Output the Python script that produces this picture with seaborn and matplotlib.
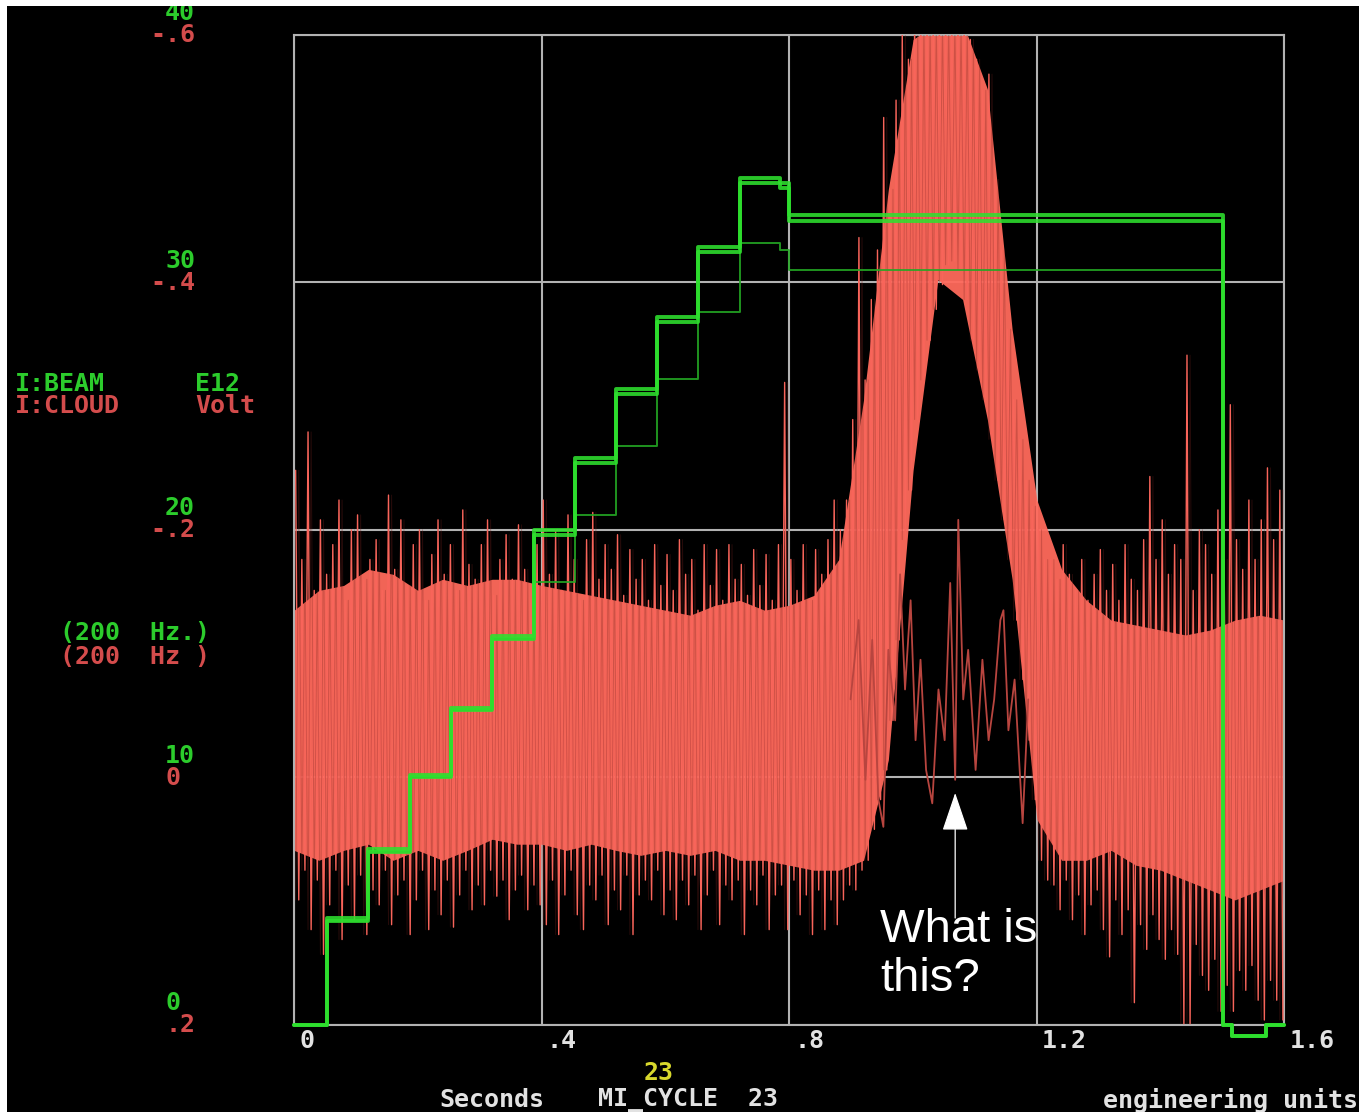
import numpy as np
import matplotlib
matplotlib.use("Agg")
import matplotlib.pyplot as plt
import matplotlib.transforms as mtransforms
from matplotlib.patches import Rectangle
import seaborn as sns

# ---------------------------------------------------------------
# I:BEAM (E12): staircase injection, three overlapping cycles
beam_times = [0.0, 0.053, 0.12, 0.187, 0.253, 0.32, 0.387, 0.453, 0.52,
              0.587, 0.653, 0.72, 0.785, 0.80, 1.50, 1.515, 1.57, 1.60]
beam_cycle_a = [0.0, 4.3, 7.1, 10.1, 12.8, 15.7, 20.0, 22.9, 25.7,
                28.6, 31.4, 34.2, 34.0, 32.7, 0.0, -0.45, 0.0, 0.0]
beam_cycle_b = [0.0, 4.2, 7.0, 10.0, 12.7, 15.6, 19.8, 22.7, 25.5,
                28.4, 31.2, 34.0, 33.8, 32.45, 0.0, -0.45, 0.0, 0.0]
beam_cycle_c = [0.0, 4.2, 7.0, 10.0, 12.7, 15.6, 17.9, 20.6, 23.4,
                26.1, 28.8, 31.6, 31.3, 30.5, 0.0, -0.45, 0.0, 0.0]

# I:CLOUD (Volt): per 10 ms bin, most negative / most positive excursion
cloud_bin_t = np.linspace(0.005, 1.595, 160)
cloud_peak_neg = [
    -0.248, -0.176, -0.279, -0.151, -0.208, -0.164, -0.188, -0.224, -0.143, -0.200,
    -0.212, -0.160, -0.176, -0.192, -0.151, -0.228, -0.168, -0.208, -0.155, -0.188,
    -0.200, -0.143, -0.180, -0.208, -0.164, -0.188, -0.151, -0.216, -0.172, -0.160,
    -0.188, -0.208, -0.147, -0.176, -0.196, -0.160, -0.204, -0.168, -0.143, -0.188,
    -0.224, -0.164, -0.200, -0.151, -0.212, -0.176, -0.143, -0.192, -0.214, -0.160,
    -0.188, -0.168, -0.196, -0.147, -0.184, -0.160, -0.176, -0.143, -0.188, -0.155,
    -0.180, -0.151, -0.192, -0.164, -0.176, -0.135, -0.188, -0.155, -0.184, -0.143,
    -0.188, -0.160, -0.172, -0.147, -0.184, -0.155, -0.180, -0.143, -0.188, -0.319,
    -0.176, -0.151, -0.188, -0.143, -0.184, -0.164, -0.192, -0.224,
    -0.200, -0.224, -0.289, -0.436, -0.321, -0.386, -0.426, -0.533, -0.475, -0.547,
    -0.603, -0.580, -0.610, -0.610, -0.610, -0.610, -0.610, -0.610, -0.610, -0.610,
    -0.610, -0.596, -0.580, -0.555, -0.568, -0.483, -0.426, -0.362, -0.305, -0.273,
    -0.240, -0.219, -0.200, -0.176,
    -0.176, -0.160, -0.188, -0.164, -0.151, -0.176, -0.143, -0.164, -0.184, -0.151,
    -0.172, -0.143, -0.188, -0.160, -0.151, -0.192, -0.243, -0.176, -0.208, -0.164,
    -0.188, -0.176, -0.341, -0.151, -0.200, -0.188, -0.164, -0.216, -0.176, -0.301,
    -0.192, -0.168, -0.224, -0.176, -0.208, -0.250, -0.192, -0.232]
cloud_peak_pos = [
    0.099, 0.075, 0.123, 0.083, 0.143, 0.103, 0.075, 0.131, 0.087, 0.115,
    0.079, 0.127, 0.091, 0.103, 0.075, 0.119, 0.095, 0.083, 0.127, 0.099,
    0.075, 0.123, 0.091, 0.111, 0.083, 0.121, 0.095, 0.075, 0.107, 0.087,
    0.103, 0.075, 0.096, 0.083, 0.115, 0.091, 0.079, 0.107, 0.087, 0.103,
    0.119, 0.083, 0.127, 0.095, 0.075, 0.111, 0.123, 0.087, 0.099, 0.079,
    0.119, 0.091, 0.107, 0.079, 0.127, 0.095, 0.083, 0.099, 0.075, 0.111,
    0.091, 0.115, 0.083, 0.103, 0.079, 0.123, 0.095, 0.075, 0.119, 0.087,
    0.099, 0.083, 0.127, 0.091, 0.103, 0.079, 0.123, 0.095, 0.087, 0.123,
    0.083, 0.111, 0.095, 0.127, 0.091, 0.123, 0.099, 0.119,
    0.099, 0.087, 0.091, 0.075, 0.067, 0.042, 0.018, -0.006, -0.046, -0.111,
    -0.192, -0.232, -0.289, -0.321, -0.353, -0.378, -0.398, -0.414, -0.417, -0.410,
    -0.386, -0.353, -0.329, -0.305, -0.273, -0.240, -0.208, -0.176, -0.127, -0.079,
    -0.030, 0.018, 0.067, 0.083,
    0.087, 0.107, 0.083, 0.115, 0.095, 0.127, 0.103, 0.091, 0.123, 0.145,
    0.099, 0.127, 0.107, 0.182, 0.119, 0.139, 0.111, 0.131, 0.147, 0.123,
    0.143, 0.199, 0.199, 0.135, 0.160, 0.172, 0.147, 0.189, 0.168, 0.189,
    0.156, 0.172, 0.152, 0.180, 0.196, 0.164, 0.180, 0.196]

# I:CLOUD dense core of the trace, every 40 ms
cloud_core_t = np.linspace(0.0, 1.6, 41)
cloud_core_top = [
    -0.135, -0.151, -0.155, -0.168, -0.164, -0.151, -0.160, -0.155, -0.160, -0.160,
    -0.155, -0.151, -0.147, -0.143, -0.139, -0.135, -0.131, -0.139, -0.143, -0.135,
    -0.139, -0.147, -0.176, -0.305, -0.475, -0.596, -0.610, -0.610, -0.556, -0.362,
    -0.224, -0.168, -0.143, -0.127, -0.123, -0.119, -0.115, -0.119, -0.127, -0.131,
    -0.127]
cloud_core_bot = [
    0.059, 0.067, 0.059, 0.054, 0.067, 0.059, 0.067, 0.059, 0.050, 0.054,
    0.054, 0.059, 0.054, 0.059, 0.063, 0.059, 0.063, 0.059, 0.067, 0.067,
    0.071, 0.075, 0.075, 0.067, -0.014, -0.248, -0.402, -0.386, -0.289, -0.160,
    0.034, 0.067, 0.067, 0.059, 0.071, 0.075, 0.083, 0.091, 0.099, 0.091,
    0.083]

# I:CLOUD on the one cycle without the burst
quiet_t = [0.899, 0.912, 0.923, 0.934, 0.944, 0.952, 0.960, 0.971, 0.979, 0.987,
           0.996, 1.004, 1.012, 1.021, 1.031, 1.041, 1.051, 1.060, 1.068, 1.073,
           1.081, 1.089, 1.101, 1.112, 1.122, 1.131, 1.141, 1.146, 1.154, 1.164,
           1.177, 1.186]
quiet_v = [-0.063, -0.127, 0.002, -0.111, 0.018, 0.040, -0.103, -0.046, -0.164, -0.071,
           -0.143, -0.030, -0.095, -0.006, 0.021, -0.071, -0.030, -0.157, 0.002, -0.208,
           -0.063, -0.103, -0.006, -0.095, -0.030, -0.063, -0.127, -0.135, -0.038, -0.079,
           0.037, -0.063]

# axis labelling
time_ticks = [0.0, 0.4, 0.8, 1.2, 1.6]
time_tick_labels = ["0", ".4", ".8", "1.2", "1.6"]
beam_ticks = [0, 10, 20, 30, 40]
beam_tick_labels = ["0", "10", "20", "30", "40"]
cloud_ticks = [0.2, 0.0, -0.2, -0.4, -0.6]
cloud_tick_labels = [".2", "0", "-.2", "-.4", "-.6"]

# ---------------------------------------------------------------
sns.set_style("dark", {"axes.facecolor": "black", "figure.facecolor": "black"})
plt.rcParams["font.family"] = ["DejaVu Sans Mono"]

W, H = 1359, 1112
fig = plt.figure(figsize=((W + 0.5) / 100, (H + 0.5) / 100), dpi=100, facecolor="black")


def fx(px):
    return px / W


def fy(py):
    return 1 - py / H


GRID = "#b2b2b2"
GREEN = "#2ee02e"
GREEN_DIM = "#24a824"
SALMON = "#ff6a5c"
DARK_RED = "#7e2420"
LBL_GREEN = "#2ccc2c"
LBL_RED = "#d44c4c"
LBL_WHITE = "#e2e2e2"

ax_cloud = fig.add_axes([fx(294), fy(1025), fx(1284) - fx(294), fy(35) - fy(1025)])
ax_cloud.set_facecolor("black")
ax_cloud.set_xlim(0, 1.6)
ax_cloud.set_ylim(0.2, -0.6)
ax_cloud.set_xticks(time_ticks)
ax_cloud.set_yticks(cloud_ticks)
ax_cloud.grid(True, color=GRID, linewidth=1.5)
ax_cloud.tick_params(length=0, labelleft=False, labelbottom=False)
for sp in ax_cloud.spines.values():
    sp.set_color(GRID)
    sp.set_linewidth(1.5)

ax_beam = ax_cloud.twinx()
ax_beam.set_ylim(0, 40)
ax_beam.grid(False)
ax_beam.tick_params(length=0, labelright=False)
for sp in ax_beam.spines.values():
    sp.set_visible(False)

# --- I:CLOUD traces -------------------------------------------------
zig_t = np.column_stack([cloud_bin_t - 0.0025, cloud_bin_t + 0.0025]).ravel()
zig_v = np.column_stack([cloud_peak_neg, cloud_peak_pos]).ravel()
zag_v = np.column_stack([cloud_peak_pos, cloud_peak_neg]).ravel()

ax_cloud.fill_between(cloud_core_t, cloud_core_top, cloud_core_bot,
                      color=SALMON, alpha=0.95, linewidth=0, zorder=2)
sns.lineplot(x=zig_t, y=zig_v, ax=ax_cloud, estimator=None, sort=False,
             color="#f8645a", linewidth=1.0, zorder=3)
sns.lineplot(x=zig_t, y=zag_v, ax=ax_cloud, estimator=None, sort=False,
             color=DARK_RED, linewidth=0.7, alpha=0.3, zorder=4)
sns.lineplot(x=quiet_t, y=quiet_v, ax=ax_cloud, estimator=None, sort=False,
             color="#b8453f", linewidth=1.3, zorder=4)

# --- I:BEAM traces --------------------------------------------------
for vals, col, lw in ((beam_cycle_c, GREEN_DIM, 1.4),
                      (beam_cycle_b, GREEN, 2.8),
                      (beam_cycle_a, GREEN, 2.8)):
    sns.lineplot(x=beam_times, y=vals, ax=ax_beam, estimator=None,
                 color=col, linewidth=lw, drawstyle="steps-post",
                 alpha=0.88, zorder=5, clip_on=False)
ax_beam.set_xlim(0, 1.6)
ax_beam.set_ylim(0, 40)
ax_beam.set_xlabel("")
ax_beam.set_ylabel("")
ax_cloud.set_xlabel("")
ax_cloud.set_ylabel("")

# --- annotation -----------------------------------------------------
ax_beam.annotate("", xy=(1.068, 9.37), xytext=(1.068, 4.32),
                 arrowprops=dict(arrowstyle="-|>,head_length=24.5,head_width=8.3",
                                 mutation_scale=1, color="white", lw=0.9,
                                 shrinkA=0, shrinkB=0), zorder=8)
ax_beam.text(0.947, 4.73, "What is\nthis?", color="white", fontsize=34,
             family=["Liberation Sans"], ha="left", va="top", linespacing=1.13,
             zorder=9)

# --- scale labels ---------------------------------------------------
mono = dict(fontsize=18, fontweight="bold", family=["DejaVu Sans Mono"])
tr_beam = (mtransforms.blended_transform_factory(fig.transFigure, ax_beam.transData)
           + mtransforms.ScaledTranslation(0, 0.22, fig.dpi_scale_trans))
tr_cloud = mtransforms.blended_transform_factory(fig.transFigure, ax_cloud.transData)
for val, lab in zip(beam_ticks, beam_tick_labels):
    ax_beam.text(fx(165 - 15 * lab.startswith("-")), val, lab, transform=tr_beam,
                 color=LBL_GREEN, ha="left", va="center", clip_on=False, **mono)
for val, lab in zip(cloud_ticks, cloud_tick_labels):
    ax_cloud.text(fx(165 - 15 * lab.startswith("-")), val, lab, transform=tr_cloud,
                  color=LBL_RED, ha="left", va="center", clip_on=False, **mono)

tr_time = (mtransforms.blended_transform_factory(ax_cloud.transData, fig.transFigure)
           + mtransforms.ScaledTranslation(0.05, 0, fig.dpi_scale_trans))
for val, lab in zip(time_ticks, time_tick_labels):
    ax_cloud.text(val, fy(1041), lab, transform=tr_time, color=LBL_WHITE,
                  ha="left", va="center", clip_on=False, **mono)

fig.text(fx(15), fy(384), "I:BEAM", color=LBL_GREEN, ha="left", va="center", **mono)
fig.text(fx(195), fy(384), "E12", color=LBL_GREEN, ha="left", va="center", **mono)
fig.text(fx(15), fy(406), "I:CLOUD", color=LBL_RED, ha="left", va="center", **mono)
fig.text(fx(195), fy(406), "Volt", color=LBL_RED, ha="left", va="center", **mono)
fig.text(fx(60), fy(633), "(200  Hz.)", color=LBL_GREEN, ha="left", va="center", **mono)
fig.text(fx(60), fy(657), "(200  Hz )", color=LBL_RED, ha="left", va="center", **mono)

fig.text(fx(658), fy(1073), "23", color="#d8d82c", ha="center", va="center", **mono)
fig.text(fx(439), fy(1100), "Seconds", color=LBL_WHITE, ha="left", va="center", **mono)
fig.text(fx(598), fy(1100), "MI_CYCLE  23", color=LBL_WHITE, ha="left", va="center", **mono)
fig.text(fx(1103), fy(1100), "engineering units", color=LBL_WHITE, ha="left",
         va="center", **mono)

# white frame along the top and left edges
fig.add_artist(Rectangle((0, fy(6)), 1, 1 - fy(6), transform=fig.transFigure,
                         facecolor="white", edgecolor="none", zorder=50))
fig.add_artist(Rectangle((0, 0), fx(7), 1, transform=fig.transFigure,
                         facecolor="white", edgecolor="none", zorder=50))

fig.savefig("out.png", dpi=100, facecolor=fig.get_facecolor())
